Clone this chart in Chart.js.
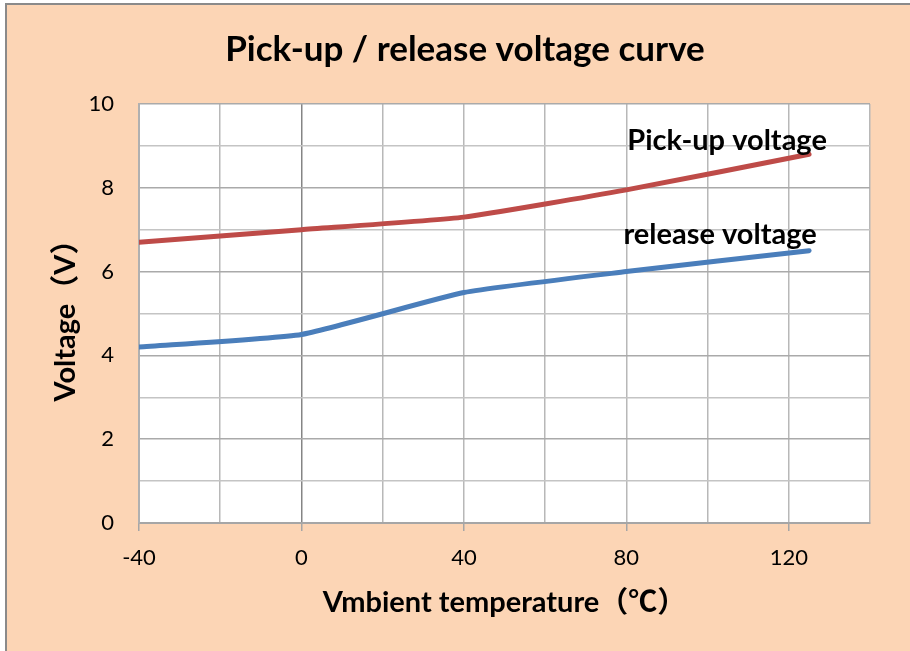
<!DOCTYPE html>
<html>
<head>
<meta charset="utf-8">
<script src="https://cdn.jsdelivr.net/npm/chart.js@4/dist/chart.umd.min.js"></script>
<style>
  html, body { margin: 0; padding: 0; background: #ffffff; }
  #wrap { width: 910px; height: 651px; position: relative; }
</style>
</head>
<body>
<div id="wrap"><canvas id="c" width="910" height="651"></canvas></div>
<script>
// ---- data ----
const temperatures = [-40, 0, 40, 80, 125];
const pickupVoltage = [6.7, 7.0, 7.3, 7.95, 8.8];
const releaseVoltage = [4.2, 4.5, 5.5, 6.0, 6.5];
const seriesNames = ['Pick-up voltage', 'release voltage'];
const chartTitle = 'Pick-up / release voltage curve';
const xTitle = 'Vmbient temperature（℃）';
const yTitle = 'Voltage（V）';

const FONT = "Lato, 'Noto Sans CJK SC', sans-serif";
const PEACH = '#FCD5B5';

const bgPlugin = {
  id: 'bg',
  beforeDraw(chart) {
    const ctx = chart.ctx;
    ctx.save();
    ctx.fillStyle = '#ffffff';
    ctx.fillRect(0, 0, chart.width, chart.height);
    ctx.fillStyle = PEACH;
    ctx.fillRect(7, 5, chart.width - 7, chart.height - 5);
    ctx.strokeStyle = '#8a8a8a';
    ctx.lineWidth = 2;
    ctx.beginPath();
    ctx.moveTo(6, chart.height);
    ctx.lineTo(6, 4);
    ctx.lineTo(chart.width, 4);
    ctx.stroke();
    const a = chart.chartArea;
    ctx.fillStyle = '#ffffff';
    ctx.fillRect(a.left, a.top, a.right - a.left, a.bottom - a.top);
    ctx.restore();
  }
};

const labelPlugin = {
  id: 'seriesLabels',
  afterDatasetsDraw(chart) {
    const ctx = chart.ctx;
    const offsets = [[-82, -14], [-89, -16]];
    ctx.save();
    ctx.font = "bold 29px " + FONT;
    ctx.fillStyle = '#000000';
    ctx.textAlign = 'center';
    ctx.textBaseline = 'middle';
    chart.data.datasets.forEach((ds, i) => {
      const meta = chart.getDatasetMeta(i);
      const last = meta.data[meta.data.length - 1];
      ctx.fillText(seriesNames[i], last.x + offsets[i][0], last.y + offsets[i][1]);
    });
    ctx.restore();
  }
};

const titlePlugin = {
  id: 'mainTitle',
  afterDraw(chart) {
    const ctx = chart.ctx;
    ctx.save();
    ctx.font = "bold 35px " + FONT;
    ctx.fillStyle = '#000000';
    ctx.textAlign = 'center';
    ctx.textBaseline = 'middle';
    ctx.fillText(chartTitle, 465, 50);
    ctx.restore();
  }
};

new Chart(document.getElementById('c'), {
  type: 'scatter',
  data: {
    datasets: [
      {
        label: seriesNames[0],
        data: temperatures.map((t, i) => ({ x: t, y: pickupVoltage[i] })),
        showLine: true,
        borderColor: '#BE4B48',
        borderWidth: 5,
        pointRadius: 0,
        tension: 0.15,
        borderCapStyle: 'round'
      },
      {
        label: seriesNames[1],
        data: temperatures.map((t, i) => ({ x: t, y: releaseVoltage[i] })),
        showLine: true,
        borderColor: '#4A7EBB',
        borderWidth: 5,
        pointRadius: 0,
        tension: 0.15,
        borderCapStyle: 'round'
      }
    ]
  },
  options: {
    responsive: false,
    animation: false,
    devicePixelRatio: 1,
    layout: { padding: { left: 0, right: 40, top: 104, bottom: 0 } },
    plugins: {
      legend: { display: false },
      tooltip: { enabled: false },
      title: { display: false }
    },
    scales: {
      x: {
        type: 'linear',
        min: -40,
        max: 140,
        afterFit(s) { s.height = 128; },
        ticks: {
          stepSize: 20,
          color: '#000000',
          font: { family: FONT, size: 22 },
          padding: 14,
          maxRotation: 0,
          autoSkip: false,
          callback: (v) => (v % 40 === 0 && v < 140) ? String(v) : ''
        },
        grid: {
          color: (c) => c.tick && c.tick.value === 0 ? '#858585' : '#b8b8b8',
          lineWidth: 1.5,
          drawTicks: true,
          tickLength: 8,
          tickColor: (c) => (c.tick && c.tick.value % 40 === 0 && c.tick.value < 140) ? '#a6a6a6' : 'rgba(0,0,0,0)'
        },
        border: { display: true, color: '#a6a6a6', width: 2 },
        title: {
          display: true,
          text: xTitle,
          color: '#000000',
          font: { family: FONT, size: 29, weight: 'bold' },
          padding: { top: 0, bottom: 31 }
        }
      },
      y: {
        type: 'linear',
        min: 0,
        max: 10,
        afterFit(s) { s.width = 139; },
        ticks: {
          stepSize: 1,
          color: '#000000',
          font: { family: FONT, size: 22 },
          padding: 25,
          autoSkip: false,
          callback: (v) => v % 2 === 0 ? String(v) : ''
        },
        grid: {
          color: (c) => c.tick && c.tick.value % 2 === 0 ? '#aaaaaa' : '#c4c4c4',
          lineWidth: 1.5,
          drawTicks: false
        },
        border: { display: true, color: '#b0b0b0', width: 2 },
        title: {
          display: true,
          text: yTitle,
          color: '#000000',
          font: { family: FONT, size: 29, weight: 'bold' },
          padding: { top: 48, bottom: 0 }
        }
      }
    }
  },
  plugins: [bgPlugin, labelPlugin, titlePlugin]
});
</script>
</body>
</html>
